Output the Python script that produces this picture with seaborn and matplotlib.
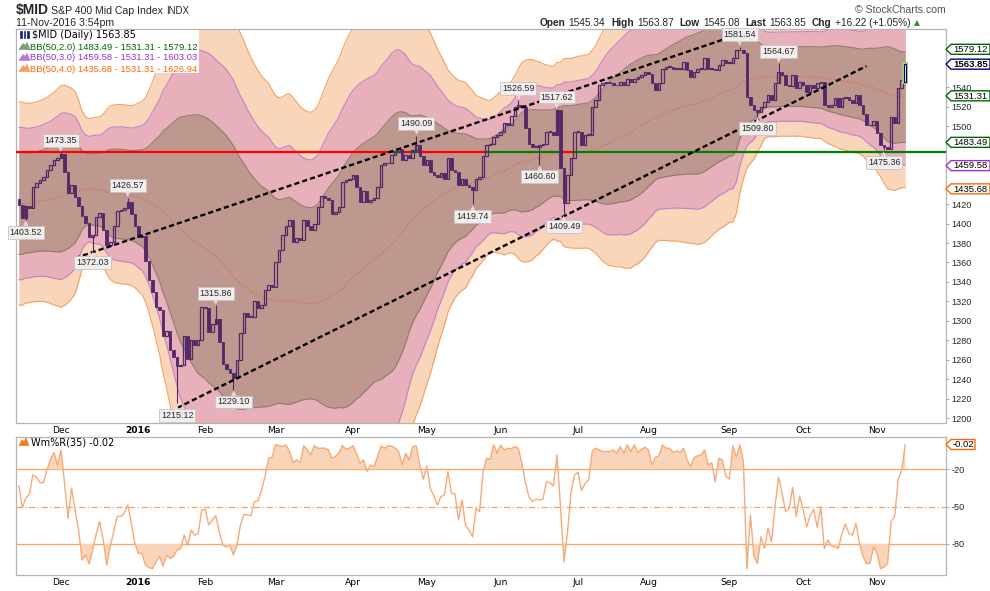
import numpy as np
import pandas as pd
import matplotlib
matplotlib.use("Agg")
import matplotlib.pyplot as plt
from matplotlib.patches import Polygon, Rectangle
from matplotlib.transforms import IdentityTransform
import seaborn as sns

# ------------------------------------------------------------------ data
holidays = ["2015-09-07", "2015-11-26", "2015-12-25", "2016-01-01", "2016-01-18",
            "2016-02-15", "2016-03-25", "2016-05-30", "2016-07-04", "2016-09-05"]
warmup_start = "2015-09-03"
first_visible = "2015-11-12"
last_day = "2016-11-11"

# closes before the visible window (only used to warm up the 50-day bands)
warmup_close = [1408, 1386, 1418, 1400, 1408, 1415, 1410, 1425, 1435, 1432, 1412, 1415,
                1395, 1390, 1385, 1380, 1350, 1348, 1370,
                1375, 1395, 1415, 1415, 1430, 1440, 1440, 1440, 1430, 1425, 1440, 1442,
                1440, 1438, 1425, 1440, 1445, 1438, 1430, 1450, 1440, 1438,
                1455, 1460, 1450, 1448, 1450, 1432, 1435, 1425]

# daily closes, 12-Nov-2015 .. 11-Nov-2016
close = [1419, 1406, 1418, 1416, 1438, 1442, 1445, 1448, 1455, 1460, 1465, 1467,
         1471, 1453, 1431, 1440, 1427, 1418, 1408, 1401, 1386, 1388, 1407, 1411,
         1393, 1378, 1381, 1397, 1413, 1414, 1416, 1422, 1410, 1398,
         1386, 1387, 1362, 1342, 1330, 1314, 1311, 1284, 1290, 1270, 1263, 1254,
         1255, 1284, 1261, 1280, 1275, 1280, 1314,
         1313, 1289, 1297, 1302, 1278, 1256, 1251, 1246, 1241, 1260, 1287, 1308,
         1304, 1304, 1320, 1313, 1316, 1332, 1337, 1335,
         1361, 1373, 1388, 1398, 1404, 1381, 1385, 1383, 1404, 1398, 1393, 1400,
         1417, 1428, 1426, 1424, 1410, 1412, 1417, 1443, 1445, 1446,
         1450, 1438, 1422, 1433, 1422, 1424, 1426, 1438, 1460, 1462, 1462, 1470,
         1474, 1477, 1465, 1470, 1467, 1476, 1481, 1469, 1460,
         1465, 1453, 1450, 1448, 1452, 1446, 1467, 1455, 1453, 1440, 1446, 1440,
         1438, 1434, 1446, 1448, 1469, 1481, 1482, 1489, 1491,
         1494, 1503, 1501, 1511, 1520, 1522, 1520, 1498, 1482, 1479, 1479, 1481,
         1482, 1494, 1494, 1491, 1517, 1457, 1421, 1450, 1467, 1494,
         1494, 1481, 1491, 1491, 1520, 1527, 1542, 1544, 1546, 1544, 1542, 1542,
         1546, 1542, 1549, 1546, 1549, 1551, 1553, 1556,
         1554, 1544, 1537, 1544, 1559, 1561, 1561, 1559, 1559, 1559, 1566, 1558,
         1551, 1556, 1559, 1559, 1570, 1559, 1559, 1558, 1563, 1568, 1565,
         1565, 1570, 1578, 1578, 1575, 1530, 1522, 1517, 1515, 1520, 1525, 1532,
         1527, 1544, 1556, 1553, 1542, 1541, 1553, 1539, 1546,
         1542, 1535, 1542, 1539, 1544, 1546, 1522, 1520, 1522, 1529, 1520, 1529,
         1530, 1527, 1524, 1532, 1522, 1513, 1501, 1501, 1505,
         1493, 1481, 1479, 1477, 1510, 1503, 1539, 1547.63, 1563.85]

# Williams %R(35), one value per visible day
wm_r = [-33, -51, -43, -40, -24.5, -26.3, -30.7, -30.7, -20.5, -12, -6.5, -16.5,
        -4.3, -31, -59.5, -35, -53, -69, -93, -89, -96, -85, -72, -62, -77, -97, -82,
        -70, -57.6, -58, -55, -48.7, -63.5, -79.6,
        -87.7, -87.7, -97, -99, -100, -94.5, -90, -98, -89, -91.7, -90, -85, -83.7,
        -73, -81, -69, -73, -71.6, -52.7,
        -52.2, -64.8, -60.8, -57.3, -70.2, -81, -82.4, -81, -89, -81, -64.8, -56.2,
        -56.7, -57.3, -46, -45.5, -36.6, -25.9, -11, -10.3,
        0, -0.9, -1.7, -0.3, -6, -14.6, -12.4, -14.6, -0.9, -4.4, -8.4, -0.9, -3, -3,
        -3, -4.4, -11, -9.7, -7, -0.9, -3.8, -3,
        -0.9, -7, -15, -12.4, -21.8, -16.5, -17.8, -9.7, -1.1, -3, -1.1, -1.1, -3,
        -5.7, -16.5, -7, -12.4, -1.7, -1.1, -16.5, -28,
        -17.3, -35.3, -41.5, -48.7, -42, -40.6, -21.8, -39.3, -39.8, -60.8, -44.7,
        -64.8, -69, -74.3, -51.4, -54, -21.8, -11, -12, -0.3, -7,
        -0.5, -4.4, -3, -3.5, -1.7, -3, -15, -30, -42, -46, -44, -44.7, -44, -30,
        -30.7, -33.4, -8.4, -50, -94.5, -70.2, -38, -24.5,
        -22.6, -37.2, -31.2, -28.6, -5.7, -3, -4.4, -5.7, -5.7, -5.7, -4.4, -7, -1.7,
        -7, -0.3, -5.7, -0.3, -6.5, -3.8, -2.2,
        -4.4, -16.5, -10.3, -9.2, -0.3, -3, -3, -6.2, -5.2, -6.5, -3, -12.4, -17.8,
        -10.3, -9.2, -8.4, -4.4, -16.5, -14.6, -30, -11, -12.4, -25.3,
        -28, -1.1, -10.3, -0.3, -13.8, -100, -56.7, -90, -95.8, -74.3, -83.7, -67.5,
        -78.3, -50, -26.4, -39.3, -54, -51.4, -34.5, -58.1, -41.5,
        -52.7, -66.2, -56.7, -52.2, -66.7, -50, -83.7, -76.9, -81.8, -82.4, -83.7,
        -71.6, -64, -71.6, -73, -63.5, -79.6, -90, -95.8, -95.8, -82.4,
        -87.7, -100, -98.5, -95.8, -62, -58, -28.6, -20.5, -0.02]

last_open = 1545.34
level = 1473.35

trend_upper_dates = ["2015-12-07", "2016-09-14"]
trend_upper_vals = [1364.5, 1601.0]
trend_lower_dates = ["2016-01-20", "2016-10-27"]
trend_lower_vals = [1210.4, 1561.9]

label_dates = ["2015-11-16", "2015-12-01", "2015-12-14", "2015-12-29", "2016-01-20",
               "2016-02-04", "2016-02-11", "2016-04-27", "2016-05-19", "2016-06-08",
               "2016-06-16", "2016-06-23", "2016-06-27", "2016-09-07", "2016-09-22",
               "2016-09-14", "2016-11-03"]
label_vals = [1403.52, 1473.35, 1372.03, 1426.57, 1215.12, 1315.86, 1229.10, 1490.09,
              1419.74, 1526.59, 1460.60, 1517.62, 1409.49, 1581.54, 1564.67, 1509.80,
              1475.36]
label_side = ["below", "above", "below", "above", "below", "above", "below", "above",
              "below", "above", "below", "above", "below", "above", "above", "below",
              "below"]

month_labels = ["Dec", "2016", "Feb", "Mar", "Apr", "May", "Jun", "Jul", "Aug", "Sep",
                "Oct", "Nov"]
price_ticks = [1200, 1220, 1240, 1260, 1280, 1300, 1320, 1340, 1360, 1380, 1400,
               1420, 1500, 1520, 1540]
wr_ticks = [-20, -50, -80]

legend_lines = ["$MID (Daily) 1563.85",
                "BB(50,2.0) 1483.49 - 1531.31 - 1579.12",
                "BB(50,3.0) 1459.58 - 1531.31 - 1603.03",
                "BB(50,4.0) 1435.68 - 1531.31 - 1626.94"]
tag_vals = [1579.12, 1563.85, 1531.31, 1483.49, 1459.58, 1435.68]
tag_cols = ["#006400", "#000080", "#006400", "#006400", "#9932CC", "#FF6600"]
header_items = [("Open", "1545.34"), ("High", "1563.87"), ("Low", "1545.08"),
                ("Last", "1563.85"), ("Chg", "+16.22 (+1.05%)")]
wr_last_text = "-0.02"

# ------------------------------------------------------------------ calc
days = pd.bdate_range(warmup_start, last_day)
days = days[~days.isin(pd.to_datetime(holidays))]
s = pd.Series(np.array(warmup_close + close, dtype=float), index=days)
mid = s.rolling(50).mean()
sd = s.rolling(50).std(ddof=0)
opn = s.shift(1)

vis = s.index >= pd.Timestamp(first_visible)
dates = s.index[vis]
n = len(dates)
x = np.arange(n)
c = s.values[vis]
o = opn.values[vis].copy()
o[-1] = last_open
m = mid.values[vis]
sdv = sd.values[vis]
wrv = np.array(wm_r, dtype=float)
idx_of = {d.strftime("%Y-%m-%d"): i for i, d in enumerate(dates)}
month_idx = [i for i in range(1, n) if dates[i].month != dates[i - 1].month]

# ------------------------------------------------------------------ style
sns.set_theme(style="white")
plt.rcParams["font.family"] = ["DejaVu Sans"]

W, H = 990, 591
fig = plt.figure(figsize=(W / 100, H / 100), dpi=100)


def fx(px):
    return px / W


def fy(py):
    return 1 - py / H


ax = fig.add_axes([fx(16), fy(423), fx(946) - fx(16), fy(29) - fy(423)])
axr = fig.add_axes([fx(16), fy(575), fx(946) - fx(16), fy(437) - fy(575)])
XL = (-0.8, 263.6)

PEACH, PINK, BROWN = "#F9D6BA", "#E7B0BA", "#BE988E"
E4, E3, E2 = "#F4A163", "#C681C4", "#8E7D6C"
CANDLE = "#532866"

# bands
ax.fill_between(x, m - 4 * sdv, m + 4 * sdv, color=PEACH, lw=0, zorder=1)
ax.fill_between(x, m - 3 * sdv, m + 3 * sdv, color=PINK, lw=0, zorder=1.1)
ax.fill_between(x, m - 2 * sdv, m + 2 * sdv, color=BROWN, lw=0, zorder=1.2)
for k, col in [(4, E4), (3, E3), (2, E2)]:
    ax.plot(x, m + k * sdv, color=col, lw=0.8, zorder=1.5)
    ax.plot(x, m - k * sdv, color=col, lw=0.8, zorder=1.5)
sns.lineplot(x=x, y=m, ax=ax, color="#DA6A45", lw=0.9, linestyle=(0, (1, 1.6)),
             zorder=2)

# level line, red below / green above
cols = np.where(c > level, "#008000", "#FF0000")
start = XL[0]
cur = cols[0]
for i in range(1, n + 1):
    if i == n or cols[i] != cur:
        end = XL[1] if i == n else i - 0.5
        ax.hlines(level, start, end, color=cur, lw=1.6, zorder=3)
        if i < n:
            start, cur = i - 0.5, cols[i]

# candles
up = c >= o
lo = np.minimum(o, c)
hgt = np.maximum(np.abs(c - o), 0.7)
upi = np.where(up)[0]
upi = upi[upi < n - 1]
ax.bar(x[upi], hgt[upi], bottom=lo[upi], width=0.72, facecolor="none",
       edgecolor=CANDLE, linewidth=0.9, zorder=5)
ax.bar(x[~up], hgt[~up], bottom=lo[~up], width=0.72, facecolor=CANDLE,
       edgecolor=CANDLE, linewidth=0.6, zorder=5)
ax.add_patch(Rectangle((n - 1 - 0.55, lo[-1] - 1.2), 1.1, hgt[-1] + 2.4,
                       facecolor="#EEF8D8", edgecolor="#A6D070", lw=1.4, zorder=5))
ax.bar([x[-1]], [hgt[-1]], bottom=[lo[-1]], width=0.6, facecolor="none",
       edgecolor="#000080", linewidth=0.8, zorder=6)

# wicks to labelled extremes + labels
for d, v, side in zip(label_dates, label_vals, label_side):
    i = idx_of[d]
    ax.vlines(i, min(v, lo[i]), max(v, lo[i] + hgt[i]), color=CANDLE, lw=0.8, zorder=4)
    sign = 1 if side == "above" else -1
    ax.annotate(f"{v:.2f}", xy=(i, v), xytext=(0, 5.5 * sign), textcoords="offset points",
                ha="center", va="bottom" if sign > 0 else "top", fontsize=6.4,
                family="Liberation Sans",
                bbox=dict(boxstyle="square,pad=0.22", fc="#F3EEEE", ec="#C9C2C2", lw=0.6),
                zorder=8)
    ax.annotate("▼" if sign > 0 else "▲", xy=(i, v), xytext=(0, 0.3 * sign),
                textcoords="offset points", ha="center",
                va="bottom" if sign > 0 else "top", fontsize=5, color="#E4DCDC", zorder=8)

# trend lines
for dts, vals in [(trend_upper_dates, trend_upper_vals), (trend_lower_dates, trend_lower_vals)]:
    ax.plot([idx_of[d] for d in dts], vals, color="black", lw=1.7,
            linestyle=(0, (2.2, 1.3)), zorder=7)

ax.set_xlim(*XL)
ax.set_ylim(1195, 1600)

# ------------------------------------------------------------------ lower panel
axr.axhline(-20, color="#F5A262", lw=0.9, zorder=1)
axr.axhline(-80, color="#F5A262", lw=0.9, zorder=1)
axr.axhline(-50, color="#F5A262", lw=0.9, linestyle=(0, (5, 2, 1, 2)), zorder=1)
axr.fill_between(x, wrv, -20, where=wrv > -20, interpolate=True, color="#F8D5B8", lw=0,
                 zorder=2)
axr.fill_between(x, wrv, -80, where=wrv < -80, interpolate=True, color="#F8D5B8", lw=0,
                 zorder=2)
sns.lineplot(x=x, y=wrv, ax=axr, color="#F6AA78", lw=1.0, zorder=3)
axr.set_xlim(*XL)
axr.set_ylim(-105, 6)

# ------------------------------------------------------------------ axes cosmetics
for a in (ax, axr):
    a.set_xlabel("")
    a.set_ylabel("")
    a.grid(False)
    a.set_facecolor("white")
    for sp in ("left", "top"):
        a.spines[sp].set_color("#B4B4B4")
        a.spines[sp].set_linewidth(0.9)
    for sp in ("right", "bottom"):
        a.spines[sp].set_color("#B4B4B4")
        a.spines[sp].set_linewidth(0.9)
        a.spines[sp].set_linestyle((0, (1, 1)))
    a.yaxis.tick_right()
    a.set_xticks(month_idx)
    a.set_xticklabels(month_labels)
    a.tick_params(axis="x", length=0, pad=2.2, labelsize=6.6, colors="black")
    a.tick_params(axis="y", right=True, left=False, length=2.5, width=0.6,
                  color="#999999", pad=1.5, labelsize=6.6)
    for t in a.get_xticklabels():
        if t.get_text() == "2016":
            t.set_fontweight("bold")

ax.set_yticks(price_ticks)
ax.set_yticklabels([str(v) for v in price_ticks])
axr.set_yticks(wr_ticks)
axr.set_yticklabels([str(v) for v in wr_ticks])
for a in (ax, axr):
    for t in a.get_yticklabels():
        t.set_family("Liberation Sans")
        t.set_fontsize(6.6)


# ------------------------------------------------------------------ tags on the right
def tag(a, val, text, col, bold=False, width=44):
    y = a.transData.transform((0, val))[1]
    x0 = 946
    pts = [(x0, y), (x0 + 5, y + 5), (x0 + width, y + 5), (x0 + width, y - 5),
           (x0 + 5, y - 5)]
    fig.add_artist(Polygon(pts, closed=True, transform=IdentityTransform(), fc="white",
                           ec=col, lw=1.0, zorder=10))
    fig.text(fx(x0 + 7), (y - 0.3) / H, text, fontsize=6.8, family="Liberation Sans",
             fontweight="bold" if bold else "normal", color="black", va="center",
             ha="left", zorder=11)


for v, col in zip(tag_vals, tag_cols):
    tag(ax, v, f"{v:.2f}", col, bold=(col == "#000080"))
tag(axr, wrv[-1], wr_last_text, "#FF6600", width=29)

# ------------------------------------------------------------------ legends
fig.add_artist(Rectangle((fx(17), fy(73)), fx(199) - fx(17), fy(30) - fy(73),
                         transform=fig.transFigure, fc="white", ec="none", zorder=9))
leg_cols = ["black", "#006400", "#9932CC", "#FF6600"]
icon_cols = ["#1A237E", "#7E9E7E", "#B77BD6", "#F4A060"]
for k, (txt, col, icol) in enumerate(zip(legend_lines, leg_cols, icon_cols)):
    base = 38.5 + 11 * k
    if k == 0:
        fig.text(fx(32), fy(base), txt, fontsize=7.0, color=col, va="baseline",
                 ha="left", zorder=11)
        for xx in (20, 23.5, 27):
            fig.add_artist(Rectangle((fx(xx), fy(base - 0.5)), fx(1.8),
                                     fy(base - 7) - fy(base - 0.5),
                                     transform=fig.transFigure, fc=icol, ec=icol, lw=0.5,
                                     zorder=11))
    else:
        fig.text(fx(30), fy(base), txt, fontsize=6.8, color=col, va="baseline",
                 ha="left", family="Liberation Sans", zorder=11)
        pts = [(19, base), (23, base - 6), (25, base - 4), (27, base - 7), (30, base)]
        fig.add_artist(Polygon([(fx(px), fy(py)) for px, py in pts], closed=True,
                               transform=fig.transFigure, fc=icol, ec=icol, lw=0.5,
                               zorder=11))

fig.text(fx(31), fy(445.5), f"Wm%R(35) {wr_last_text}", fontsize=7.0, color="black",
         va="baseline", ha="left", zorder=11)
pts = [(19, 445.5), (22, 440), (24, 442), (26, 438), (29, 445.5)]
fig.add_artist(Polygon([(fx(px), fy(py)) for px, py in pts], closed=True,
                       transform=fig.transFigure, fc="#F47A20", ec="#F47A20", lw=0.5,
                       zorder=11))

# ------------------------------------------------------------------ header
fig.text(fx(16), fy(14), "$MID", fontsize=10, fontweight="bold",
         family="Liberation Sans", va="baseline", ha="left")
fig.text(fx(51), fy(13.5), "S&P 400 Mid Cap Index", fontsize=7.6,
         family="Liberation Sans", va="baseline", ha="left")
fig.text(fx(166), fy(13.5), "INDX", fontsize=7.0, family="Liberation Sans",
         va="baseline", ha="left")
fig.text(fx(16), fy(25.5), "11-Nov-2016 3:54pm", fontsize=7.6, family="Liberation Sans",
         va="baseline", ha="left")
fig.text(fx(946), fy(13), "© StockCharts.com", fontsize=7.6, family="Liberation Sans",
         color="#555555", va="baseline", ha="right")

r = fig.canvas.get_renderer()
xpos = 540
for lab, val in header_items:
    t = fig.text(fx(xpos), fy(25.5), lab, fontsize=7.3, fontweight="bold",
                 family="Liberation Sans", va="baseline", ha="left")
    xpos += t.get_window_extent(r).width + 3
    t = fig.text(fx(xpos), fy(25.5), val, fontsize=7.3, family="Liberation Sans",
                 va="baseline", ha="left")
    xpos += t.get_window_extent(r).width + 6
fig.text(fx(xpos - 2), fy(25.5), "▲", fontsize=5.5, color="#2E8B2E", va="baseline",
         ha="left")

fig.savefig("out.png", dpi=100)
